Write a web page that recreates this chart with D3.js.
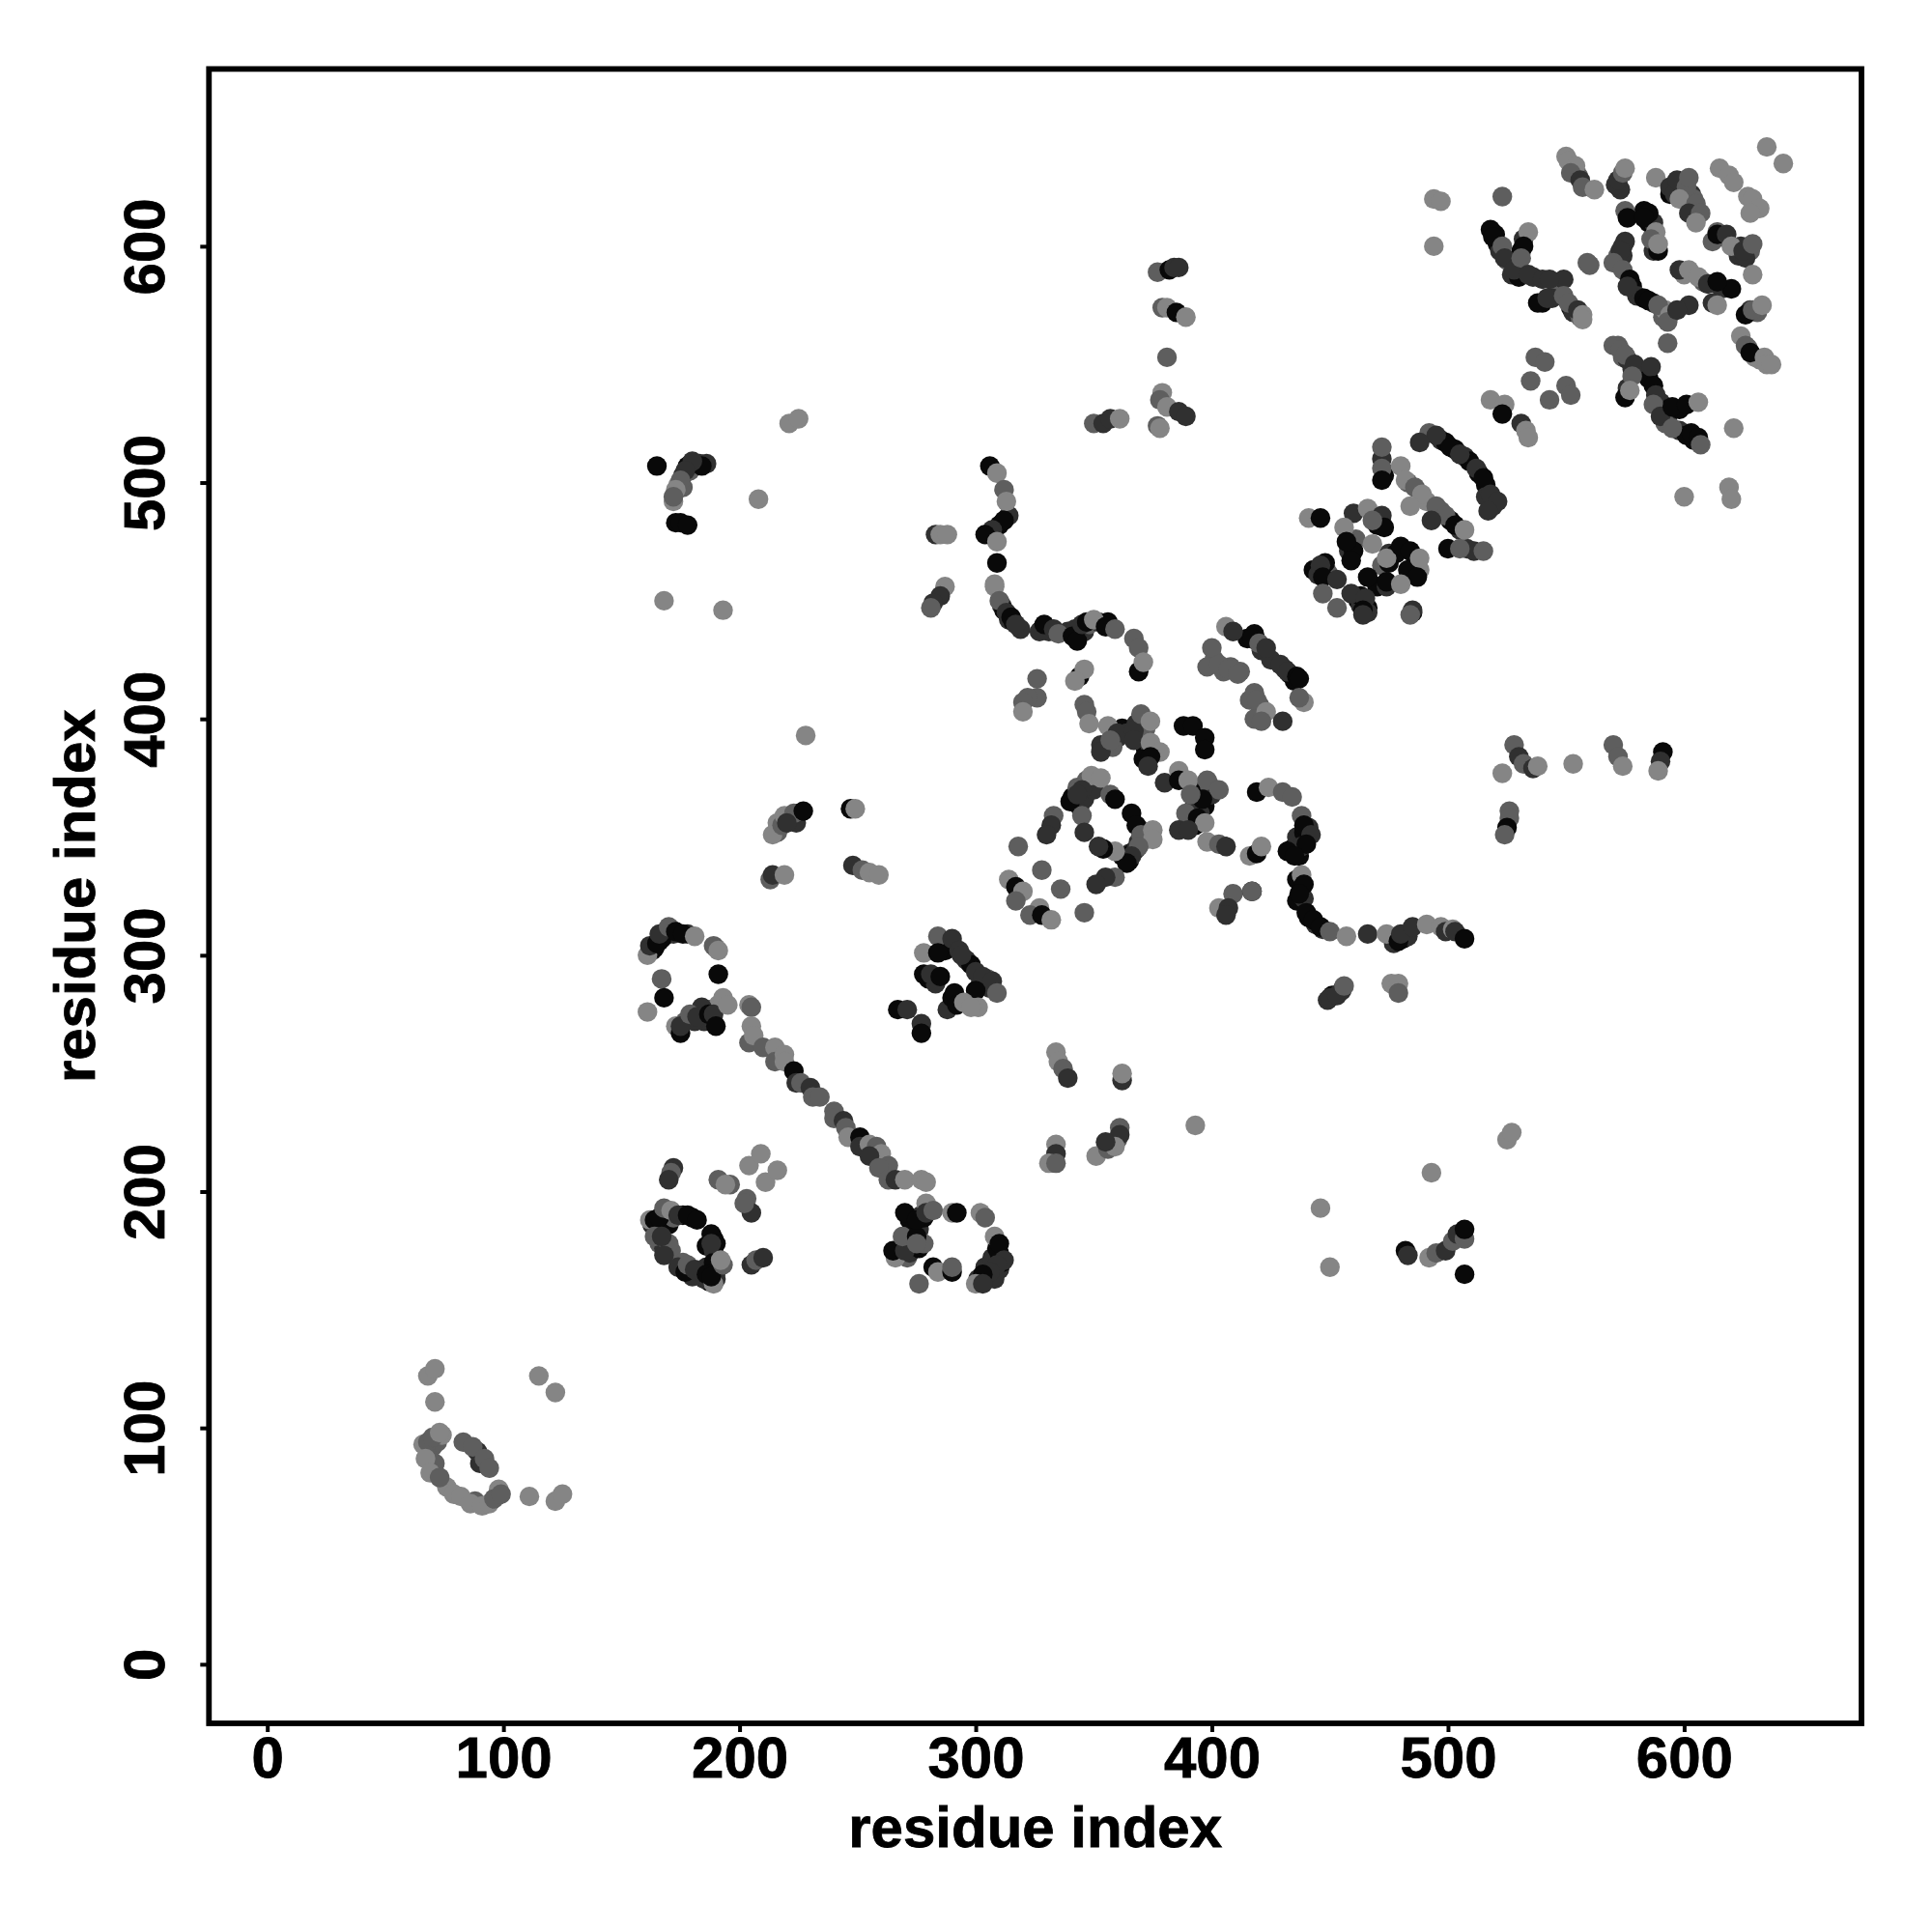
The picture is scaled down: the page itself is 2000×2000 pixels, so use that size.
<!DOCTYPE html>
<html><head><meta charset="utf-8"><script src="https://cdn.jsdelivr.net/npm/d3@7"></script>
<style>html,body{margin:0;background:#fff}svg{display:block}text{font-family:"Liberation Sans",Arial,sans-serif;font-weight:700;fill:#000;stroke:#000;stroke-width:.8px}</style></head>
<body><svg id="c" width="2000" height="2000"></svg>
<script>
const xTicks=[0,100,200,300,400,500,600];
const yTicks=[0,100,200,300,400,500,600];
const axisTitle="residue index";
const shades=["#090909","#303030","#5e5e5e","#858585"];
// each entry: [residue x, residue y, shade level]
const denseUnderlay=[[68,90,3],[70,92,2],[72,94,2],[74,97,3],[71,85,2],[76,75,3],[88,69,2],[97,71,2],[98,74,3],[89,90,1],[90,85,1],
[163,302,1],[164,303,0],[166,306,0],[168,308,0],[169,310,1],[171,311,0],[172,309,1],[167,307,0],[178,309,1],[190,303,3],[186,276,0],[188,277,0],[188,273,1],[191,279,3],[185,272,1],[177,272,2],[181,272,1],[184,278,1],
[163,186,1],[165,185,0],[167,186,0],[169,188,1],[170,186,0],[172,189,2],[176,190,0],[180,189,0],[189,180,0],[186,177,0],[189,175,1],[166,178,2],[168,176,1],[171,175,2],[186,168,1],[187,162,0],[190,166,1],[189,170,0],[190,163,1],[185,163,1],[180,164,1],[176,170,2],
[272,178,1],[274,185,0],[277,190,1],[273,186,0],[276,184,1],[271,172,2],[272,174,1],[276,176,0],[278,178,2],[305,163,0],[307,165,0],[310,167,1],[311,170,0],[308,163,1],[301,163,1],[304,168,1],[307,172,1],[310,174,0],[309,176,0],[278,189,0],[280,193,3],[272,188,0],
[290,305,1],[289,303,0],[287,302,0],[296,298,1],[298,296,0],[302,288,1],[305,290,2],[306,286,1],[280,290,0],[283,288,1],[288,277,1],[290,282,0],
[174,499,3],[176,503,1],[178,507,0],[181,507,0],[183,508,1],[176,498,2],[179,505,2],[172,492,3],[216,352,2],[222,358,1],[224,356,1],[225,360,1],[216,356,3],
[311,448,1],[312,446,0],[314,442,1],[316,441,0],[319,438,1],[328,438,0],[331,437,1],[339,437,1],[342,438,1],[344,436,0],[346,437,1],[348,440,2],[352,441,1],[356,441,0],[306,478,0],[310,482,0],[314,486,1],
[341,367,0],[344,363,0],[346,366,1],[348,372,2],[343,371,2],[347,374,2],[350,370,1],[365,343,1],[367,344,0],[369,348,1],[372,349,2],[362,342,0],[365,340,0],[368,345,1],[370,353,2],
[360,392,1],[362,396,0],[364,394,1],[368,398,1],[369,394,0],[372,396,2],[358,388,2],[372,387,0],[374,388,1],[371,383,0],[393,371,1],[395,369,0],[397,363,0],[395,360,1],[399,372,2],[400,368,1],[392,362,1],[391,356,1],[393,355,0],
[408,422,2],[412,420,2],[405,420,2],[401,425,2],[415,434,0],[419,433,0],[421,429,1],[425,425,1],[431,421,1],[433,419,0],[435,416,0],[420,406,2],[421,404,2],[418,400,2],[416,408,2],
[437,342,0],[434,345,0],[436,350,1],[439,352,0],[441,354,1],[438,346,1],[436,332,0],[438,328,0],[441,316,0],[444,313,1],[447,311,1],[481,307,0],[483,308,1],[477,305,1],[436,323,0],[439,324,1],[451,283,0],[449,281,1],[455,285,1],
[443,463,0],[445,461,1],[449,462,2],[448,466,0],[462,450,0],[463,448,1],[466,447,0],[458,471,1],[461,476,2],[470,482,0],[475,470,1],[472,465,2],[478,470,0],[486,465,1],[488,463,3],[483,463,0],[470,456,0],[474,456,1],[485,445,0],[466,445,1],[463,452,0],[475,466,0],[460,471,0],
[497,518,1],[499,517,0],[503,514,0],[507,511,1],[509,509,0],[513,504,0],[516,499,0],[516,494,1],[519,490,1],[472,510,1],[473,503,0],[483,500,2],[491,492,3],[497,488,2],[501,484,0],[505,480,1],[508,472,1],[511,471,1],
[520,605,0],[521,601,0],[522,598,1],[525,594,2],[527,588,1],[530,587,0],[532,603,1],[531,598,0],[536,587,1],[545,585,1],[547,582,2],[552,574,0],[553,572,1],[556,570,2],[540,576,0],[544,578,1],
[572,558,2],[574,553,2],[576,552,1],[578,548,1],[581,547,1],[584,546,1],[585,544,0],[576,540,1],[590,534,1],[592,531,0],[593,528,1],[592,525,2],[598,531,0],[598,522,1],[601,520,0],[604,518,0],
[585,610,0],[583,615,0],[587,598,1],[587,610,1],[574,600,1],[572,596,2],[578,583,0],[580,579,1],[583,578,0],[587,576,1],[591,570,2],[592,573,3],[616,604,1],[622,599,2],[623,596,1],[624,600,1],[628,598,2],[612,602,2],[600,588,3],[608,585,2],[616,582,1],[620,582,0],[628,573,1],[631,572,2],
[599,624,1],[603,622,1],[600,627,2],[604,620,2],[630,553,3],[632,552,3],[627,557,2],[574,596,1],[560,592,2],[555,630,2],[573,624,1],[594,622,0],[596,626,1]];
const lowerLeft=[[68,122,3],[71,125,3],[71,111,3],[115,122,3],[122,115,3],[66,93,3],[68,94,2],[70,96,2],[73,98,3],[67,87,3],[69,81,3],[73,79,2],[79,72,3],[82,71,3],[86,68,3],[91,67,3],[94,68,3],[96,70,2],[99,72,2],[83,94,2],[87,92,2],[92,87,2],[94,83,2],[111,71,3],[122,69,3],[125,72,3]];
const ringLeft=[[161,300,3],[162,304,1],[165,305,0],[166,309,1],[170,312,2],[173,310,0],[176,309,0],[181,308,3],[189,304,2],[191,302,3],[191,292,0],[167,290,2],[168,282,0],[161,276,3],[173,270,3],[175,267,0],[175,270,1],[179,275,2],[182,274,1],[187,275,0],[189,275,1],[190,270,0],[193,282,3],[195,279,3],
[172,210,1],[171,208,2],[170,205,1],[191,205,2],[196,203,2],[194,203,3],[204,211,3],[209,216,3],[211,204,3],[216,209,3],[203,197,2],[205,191,1],[202,195,2],[205,169,1],[207,171,2],[210,172,1],
[162,188,3],[164,188,0],[166,189,0],[168,193,2],[171,192,3],[174,190,1],[178,190,0],[182,188,0],[188,182,0],[190,178,0],[188,178,1],[164,181,2],[170,178,2],[167,181,1],[168,173,1],[174,168,1],[177,166,0],[178,169,2],[181,167,1],[186,165,0],[189,161,3],[188,164,0],[193,169,2],[192,171,3]];
const bar=[[204,279,3],[205,278,2],[205,270,3],[204,263,2],[206,266,3],[210,261,2],[215,261,3],[215,255,2],[219,258,3],[219,255,3],[223,251,0],[224,246,1],[226,246,2],[230,244,1],[231,240,2],[234,240,2],[240,234,2],[240,231,2],[244,230,1],[245,227,2],[246,223,3],[251,223,0],[251,219,1],[255,220,3],[258,219,2],[260,216,3],[255,215,1],[263,211,2],[259,210,2],[263,205,2],[266,205,1],[270,205,3],[277,205,3],[279,204,3]];
const ringMid=[[284,308,2],[290,307,1],[278,301,3],[284,301,0],[293,302,1],[294,300,1],[278,292,0],[281,292,1],[285,291,0],[300,293,1],[303,291,1],[307,289,1],[300,285,0],[309,284,2],[291,284,0],[292,279,0],[295,280,3],[301,278,3],[298,278,3],[267,277,0],[271,277,1],[277,271,1],[277,267,0],
[266,172,3],[265,175,0],[270,175,1],[269,181,2],[275,181,0],[275,178,2],[270,191,0],[275,188,0],[279,195,3],[279,191,1],[282,192,2],[290,191,3],[292,191,0],[302,191,3],[304,189,2],[308,181,3],[310,178,0],[312,171,1],[309,169,1],[306,166,1],[303,165,0],[300,161,3],[303,161,1],[282,168,0],[284,166,3],[290,166,0],[290,168,2],[276,161,2],
[334,259,3],[335,255,3],[337,252,2],[339,248,1],[334,220,3],[334,216,1],[331,212,3],[334,212,2],[351,215,3],[356,218,2],[360,222,2],[361,227,2],[361,224,1],[359,219,3],[355,221,1],[362,247,1],[362,250,3],[393,228,3]];
const upperLeft=[[165,507,0],[186,508,1],[184,507,0],[180,509,1],[177,505,1],[175,501,2],[173,497,3],[172,494,2],[173,483,0],[175,483,0],[178,482,0],[208,493,3],[221,525,3],[225,527,3],[168,450,3],[193,446,3],[228,393,3],[214,351,3],[218,355,2],[219,359,3],[223,360,2],[227,361,0],[220,356,1],[213,332,2],[214,334,1],[219,334,3],[247,362,0],[249,362,3],[248,338,1],[252,336,2],[255,335,3],[259,334,3]];
const curve=[[306,507,0],[309,504,3],[312,497,2],[313,492,3],[312,484,0],[307,480,1],[304,478,0],[309,475,3],[309,466,0],[308,457,3],[308,456,3],[310,450,2],[313,445,1],[315,443,0],[317,440,1],[327,437,1],[329,440,0],[333,438,1],[335,436,2],[341,435,0],[343,433,0],[345,440,1],[347,441,0],[350,442,3],[355,439,0],[359,438,2],[367,434,2],[369,430,2],[369,420,0],[371,424,3],[344,418,0],[346,421,3],[342,416,3],[326,417,2],[326,409,2],[322,409,2],[320,407,2],[320,403,3],[346,406,2],[347,403,2],[348,398,3],
[287,456,3],[285,452,1],[282,449,1],[281,447,2],[283,478,1],[285,478,3],[288,478,3],[350,525,2],[354,525,1],[357,527,1],[361,527,3],[377,589,2],[382,590,0],[384,591,1],[386,591,1],[379,574,2],[381,574,3],[385,572,0],[389,570,3],[381,553,2],[379,538,3],[378,535,2],[381,532,3],[386,530,1],[389,528,1],[377,524,2],[378,523,3]];
const centre=[[356,397,3],[360,394,1],[353,389,1],[353,386,1],[357,391,2],[367,395,1],[370,402,2],[374,399,3],[367,391,1],[374,390,3],[378,386,3],[374,384,0],[373,380,1],[388,397,0],[392,397,0],[397,392,0],[397,387,0],
[349,376,3],[353,375,3],[345,370,1],[340,365,0],[343,368,1],[357,368,2],[359,366,0],[366,360,0],[368,355,0],[370,351,2],[375,353,3],[375,349,3],[369,346,2],[366,342,1],[364,339,0],[359,344,3],[354,345,0],[352,346,1],[345,359,2],[346,352,1],[333,359,2],[332,355,1],[330,351,1],[318,346,2],[328,336,2],[336,328,2],[346,318,2],[359,333,2],[355,333,1],[351,330,1],[314,332,3],[317,329,0],[320,327,3],[317,323,2],[327,320,3],[323,317,2],[328,317,0],[332,315,3],
[380,373,1],[386,378,3],[386,374,0],[390,374,3],[398,374,2],[403,370,2],[396,366,0],[391,368,2],[389,360,2],[394,358,0],[397,356,3],[386,353,1],[390,353,1],[398,348,3],[403,347,2],[406,346,1],[416,342,3],[419,343,0],[421,346,3]];
const strandsMid=[[406,439,3],[409,437,1],[418,436,0],[417,434,0],[420,432,2],[423,430,1],[400,430,2],[398,422,2],[403,423,2],[407,421,2],[411,419,2],[429,423,1],[432,420,1],[436,418,0],[437,417,0],[439,407,3],[437,409,2],[418,411,2],[419,408,2],[423,403,3],[421,399,2],[430,399,1],
[419,369,0],[424,371,3],[430,369,2],[434,367,2],[438,359,2],[439,355,0],[442,351,1],[440,347,0],[432,344,0],[435,342,0],[438,334,3],[439,330,0],[437,326,0],[440,318,0],[443,315,0],[446,312,0],[450,310,2],[457,308,3],[466,309,1],[474,309,3],[479,306,0],[480,309,1],[485,312,1],[491,313,3],[497,312,3],[499,310,1],[502,311,3],[503,310,1],[507,307,0],
[409,326,2],[417,327,0],[417,327,2],[403,320,3],[407,320,1],[406,317,1],[450,282,1],[453,283,1],[456,287,2],[476,288,3],[479,288,3],[479,284,2]];
const lowerRight=[[482,175,0],[483,173,1],[507,165,0],[492,172,3],[495,174,2],[499,175,1],[502,179,2],[504,182,1],[507,180,2],[507,184,0],[446,193,3],[450,168,3],[493,208,3],[525,222,3],[527,225,3],[523,377,3],[528,389,2],[530,384,1],[532,381,2],[536,379,1],[538,380,3],[553,381,3],[570,389,2],[572,384,2],[574,380,3],[591,386,0],[590,382,1],[589,378,3],[526,361,2],[526,358,2],[525,354,0],[524,351,2]];
const honeycomb=[[472,515,2],[472,506,2],[472,501,0],[480,507,3],[482,501,3],[486,498,2],[489,495,3],[484,490,3],[495,490,2],[499,486,2],[493,484,1],[503,482,0],[507,480,3],[500,472,0],[505,472,2],[515,471,2],
[441,485,3],[446,485,0],[460,487,1],[466,489,3],[472,486,1],[473,481,0],[468,484,2],[456,481,3],[457,475,0],[468,474,3],[474,468,3],[480,473,0],[484,471,0],[488,468,3],[487,460,0],[446,465,1],[447,460,0],[453,459,1],[459,467,0],[466,460,0],[474,458,0],[480,457,3],[447,453,2],[459,453,1],[465,451,1],[453,447,2],[464,446,0],[485,446,1],[484,444,2],[464,444,1]];
const upperRight=[[492,521,2],[495,520,1],[488,517,1],[501,515,0],[505,512,1],[512,506,1],[515,502,0],[518,495,1],[521,492,1],[517,488,1],[600,494,3],[619,498,3],[620,493,3],
[518,535,3],[524,533,3],[523,529,0],[531,525,1],[533,522,3],[534,519,3],[537,553,2],[541,551,2],[535,543,2],[543,535,2],[550,541,2],[552,537,2],
[570,558,2],[573,556,2],[575,554,2],[579,550,1],[586,549,1],[578,545,2],[575,536,0],[577,539,3],[587,541,0],[588,537,1],[587,533,2],[590,528,1],[595,532,0],[601,533,0],[606,534,3],[595,523,2],[603,521,0],[606,519,0],[607,516,2],[621,523,3],
[518,607,0],[519,604,0],[523,600,2],[524,595,1],[528,590,1],[534,606,3],[532,600,0],[531,595,2],[534,588,1],[540,586,1],[549,586,1],[543,586,1],[538,576,0],[542,578,1],[549,579,2],[551,576,2],[555,573,1],[557,571,3],[557,569,3],[523,621,2],[494,620,3],[497,619,3],[494,600,3],[559,593,2],
[575,615,2],[576,612,0],[585,614,0],[583,612,0],[588,606,3],[586,603,2],[589,598,0],[589,601,3],[575,602,1],[573,598,1],[570,593,2],[574,590,2],[577,586,0],[576,583,1],[585,577,0],[589,575,2],[594,571,3],[593,568,2],[602,575,1],[597,573,1],
[614,606,2],[614,605,0],[618,605,1],[620,600,3],[626,595,1],[625,598,1],[629,601,2],[629,588,3],[598,590,1],[602,590,3],[606,587,3],[610,584,1],[614,585,0],[612,576,1],[614,575,3],[626,571,0],[629,573,2],[633,575,3],[593,559,2],[624,562,3],[626,558,2],[628,555,0],[634,553,3],[635,550,3],[637,550,3],
[550,638,3],[551,636,3],[554,634,3],[552,631,2],[556,628,1],[557,625,2],[562,624,3],[571,626,1],[572,628,1],[574,631,2],[575,633,3],[588,629,3],[594,625,1],[596,622,1],[597,628,1],[601,625,2],[602,629,2],[598,620,3],[605,618,2],[602,614,1],[607,614,2],[605,610,3],[615,633,3],[619,630,3],[621,627,3],[627,621,3],[629,620,3],[632,616,3],[628,614,3],[635,642,3],[642,635,3]];
const contacts=[...denseUnderlay,...lowerLeft,...ringLeft,...bar,...ringMid,...upperLeft,...curve,...centre,...strandsMid,...lowerRight,...honeycomb,...upperRight];

const svg=d3.select("#c");
const box={l:216.3,r:1927,t:71.4,b:1784};
const x=d3.scaleLinear().domain([-24.7,675.1]).range([box.l,box.r]);
const y=d3.scaleLinear().domain([-25,675]).range([box.b,box.t]);
svg.append("g").selectAll("circle").data(contacts).join("circle")
 .attr("cx",d=>x(d[0])).attr("cy",d=>y(d[1])).attr("r",10.2).attr("fill",d=>shades[d[2]]);
svg.append("rect").attr("x",box.l).attr("y",box.t).attr("width",box.r-box.l).attr("height",box.b-box.t)
 .attr("fill","none").attr("stroke","#000").attr("stroke-width",5.8);
const ax=svg.append("g").attr("transform",`translate(0,${box.b})`)
 .call(d3.axisBottom(x).tickValues(xTicks).tickSize(9).tickPadding(12).tickFormat(d3.format("d")));
const ay=svg.append("g").attr("transform",`translate(${box.l},0)`)
 .call(d3.axisLeft(y).tickValues(yTicks).tickSize(9).tickFormat(d3.format("d")));
ax.select(".domain").remove(); ay.select(".domain").remove();
[ax,ay].forEach(a=>{a.selectAll("line").attr("stroke","#000").attr("stroke-width",4);
 a.selectAll("text").attr("font-size",60).attr("font-family",null);});
ax.selectAll("text").attr("dy",null).attr("y",56);
ay.selectAll("text").attr("x",null).attr("dy",null).attr("text-anchor","middle")
 .attr("transform","translate(-46.5,0) rotate(-90)");
svg.append("text").attr("x",(box.l+box.r)/2).attr("y",1912).attr("text-anchor","middle").attr("font-size",60).text(axisTitle);
svg.append("text").attr("transform",`translate(98,${(box.t+box.b)/2}) rotate(-90)`).attr("text-anchor","middle").attr("font-size",60).text(axisTitle);
</script></body></html>
